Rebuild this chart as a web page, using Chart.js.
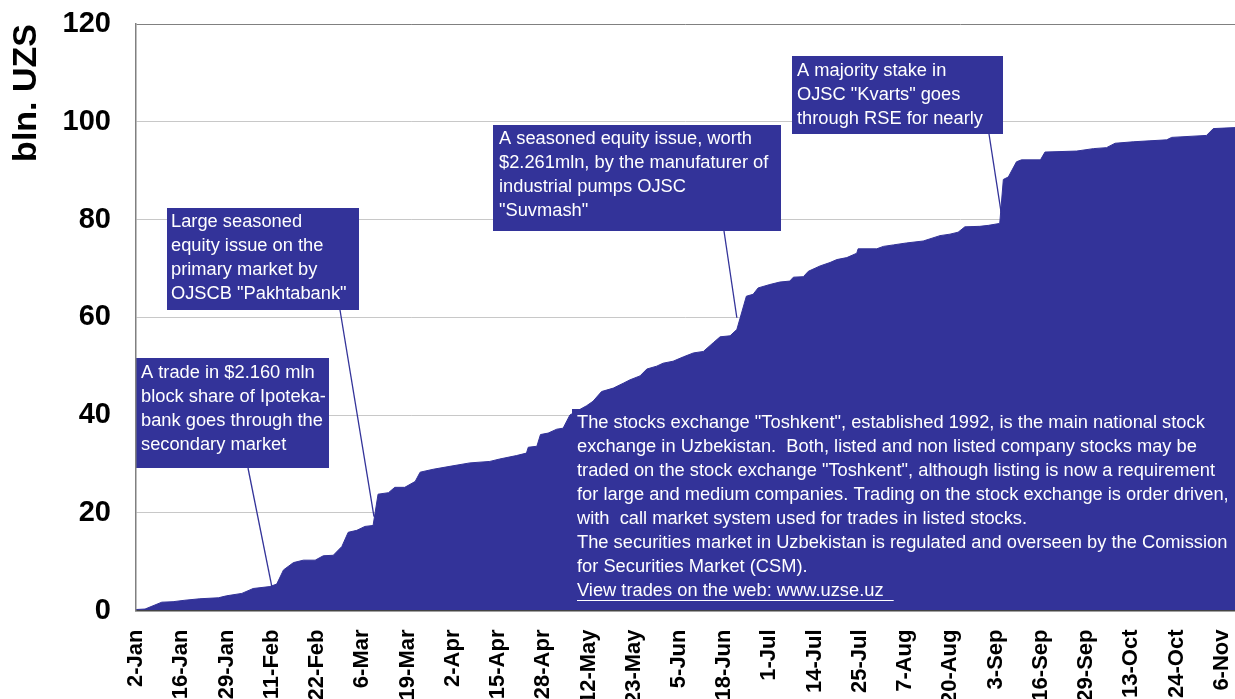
<!DOCTYPE html>
<html><head><meta charset="utf-8">
<script src="https://cdn.jsdelivr.net/npm/chart.js@4.4.1/dist/chart.umd.min.js"></script>
<style>html,body{margin:0;padding:0;background:#fff;overflow:hidden}</style>
</head><body>
<canvas id="c" width="1235" height="699"></canvas>
<script>
// x tick labels (one every ~9 trading days)
const dateLabels = ['2-Jan','16-Jan','29-Jan','11-Feb','22-Feb','6-Mar','19-Mar','2-Apr','15-Apr','28-Apr',
  '12-May','23-May','5-Jun','18-Jun','1-Jul','14-Jul','25-Jul','7-Aug','20-Aug','3-Sep',
  '16-Sep','29-Sep','13-Oct','24-Oct','6-Nov'];
// position along the axis, in label periods (0 = 2-Jan, 24 = 6-Nov)
const positions = [0,0.2,0.57,0.82,1.08,1.41,1.82,2.0,2.34,2.59,2.96,3.11,3.26,3.48,3.70,3.96,4.14,4.36,4.55,4.69,
  4.88,5.06,5.24,5.35,5.58,5.72,5.94,6.17,6.28,6.57,6.94,7.38,7.82,8.04,8.41,8.63,8.67,8.86,8.94,9.11,
  9.30,9.44,9.59,9.96,10.10,10.29,10.55,10.77,10.92,11.14,11.29,11.51,11.65,11.87,12.10,12.32,12.54,12.76,12.91,13.13,
  13.28,13.49,13.64,13.75,14.01,14.23,14.45,14.53,14.75,14.86,15.12,15.34,15.49,15.71,15.93,15.96,16.37,16.52,16.74,17.03,
  17.40,17.77,17.99,18.17,18.32,18.65,18.84,19.09,19.17,19.28,19.46,19.57,19.99,20.09,20.79,21.16,21.45,21.64,22.04,22.41,
  22.78,22.89,23.66,23.81,24.29];
// cumulative value, bln. UZS
const values = [0.2,0.3,1.7,1.8,2.1,2.4,2.6,3.0,3.5,4.5,4.9,5.4,8.3,9.8,10.3,10.3,11.2,11.3,13.1,16.0,
  16.4,17.2,17.4,23.8,24.1,25.2,25.2,26.4,28.3,28.9,29.5,30.2,30.5,31.0,31.7,32.2,33.4,33.6,36.0,36.3,
  37.1,37.3,40.0,41.9,42.8,44.8,45.5,46.5,47.2,48.0,49.4,50.0,50.6,51.0,51.9,52.7,53.0,54.8,56.0,56.2,
  57.5,64.3,64.7,66.0,66.7,67.2,67.4,68.2,68.3,69.4,70.5,71.2,71.8,72.2,73.1,74.0,74.0,74.5,74.8,75.2,
  75.6,76.7,77.0,77.4,78.5,78.6,78.8,79.2,88.2,88.7,91.8,92.2,92.2,93.8,94.0,94.5,94.7,95.6,95.9,96.1,
  96.3,96.8,97.2,98.6,98.8];
const yTicks = [0,20,40,60,80,100,120];

const BLUE = '#333399';
const FONT = "'Liberation Sans', Arial, sans-serif";

const callouts = [
  {lines:['A trade in $2.160 mln','block share of Ipoteka-','bank goes through the','secondary market'],
   box:[136,358,193,110], textX:141, textY:373, from:[248,468], to:[3.0,5.0]},
  {lines:['Large seasoned','equity issue on the','primary market by','OJSCB "Pakhtabank"'],
   box:[167,208,192,102], textX:171, textY:222, from:[340,310], to:[5.26,19.2]},
  {lines:['A seasoned equity issue, worth','$2.261mln, by the manufaturer of','industrial pumps OJSC','"Suvmash"'],
   box:[493,125,288,106], textX:499, textY:139, from:[724,231], to:[13.28,59.9]},
  {lines:['A majority stake in','OJSC "Kvarts" goes','through RSE for nearly'],
   box:[792,56,211,78], textX:797, textY:71, from:[989,134], to:[19.12,81.5]}
];
const infoLines = [
  'The stocks exchange "Toshkent", established 1992, is the main national stock',
  'exchange in Uzbekistan.  Both, listed and non listed company stocks may be',
  'traded on the stock exchange "Toshkent", although listing is now a requirement',
  'for large and medium companies. Trading on the stock exchange is order driven,',
  'with  call market system used for trades in listed stocks.',
  'The securities market in Uzbekistan is regulated and overseen by the Comission',
  'for Securities Market (CSM).',
  'View trades on the web: www.uzse.uz  '
];

const annotPlugin = {
  id: 'annot',
  afterDatasetsDraw(chart) {
    const ctx = chart.ctx, xs = chart.scales.x, ys = chart.scales.y;
    ctx.save();
    ctx.font = '18.3px ' + FONT;
    ctx.textBaseline = 'middle';
    callouts.forEach(c => {
      ctx.strokeStyle = BLUE; ctx.lineWidth = 1.3;
      ctx.beginPath();
      ctx.moveTo(c.from[0], c.from[1]);
      ctx.lineTo(xs.getPixelForValue(c.to[0]), ys.getPixelForValue(c.to[1]));
      ctx.stroke();
      ctx.fillStyle = BLUE;
      ctx.fillRect(c.box[0], c.box[1], c.box[2], c.box[3]);
      ctx.fillStyle = '#ffffff';
      c.lines.forEach((t, i) => ctx.fillText(t, c.textX, c.textY + i * 24));
    });
    // information panel
    const area = chart.chartArea;
    ctx.fillStyle = BLUE;
    ctx.fillRect(572, 409, area.right - 572, area.bottom - 409);
    ctx.fillStyle = '#ffffff';
    ctx.font = '18.3px ' + FONT;
    infoLines.forEach((t, i) => ctx.fillText(t, 577, 423 + i * 24, area.right - 580));
    const last = infoLines[infoLines.length - 1];
    const w = ctx.measureText(last).width;
    ctx.strokeStyle = '#ffffff'; ctx.lineWidth = 1;
    ctx.beginPath(); ctx.moveTo(577, 600.5); ctx.lineTo(577 + w, 600.5); ctx.stroke();
    ctx.restore();
  }
};

new Chart(document.getElementById('c'), {
  type: 'line',
  data: {
    datasets: [{
      data: positions.map((p, i) => ({x: p, y: values[i]})),
      fill: 'origin',
      backgroundColor: BLUE,
      borderColor: BLUE,
      borderWidth: 1,
      pointRadius: 0,
      tension: 0
    }]
  },
  options: {
    responsive: false,
    animation: false,
    layout: {padding: {top: 24, left: 0, right: 0, bottom: 0}},
    plugins: {legend: {display: false}, tooltip: {enabled: false}},
    scales: {
      x: {
        type: 'linear',
        min: 0,
        max: positions[positions.length - 1],
        afterBuildTicks: s => { s.ticks = dateLabels.map((_, i) => ({value: i})); },
        afterFit: s => { s.height = 88.5; s.paddingLeft = 0; s.paddingRight = 0; },
        grid: {display: false, drawTicks: false},
        border: {display: true, color: '#444', width: 1.5, z: 1},
        ticks: {
          autoSkip: false, minRotation: 90, maxRotation: 90, padding: 19,
          color: '#000', font: {family: FONT, size: 22, weight: 'bold'},
          callback: v => dateLabels[v] ?? ''
        }
      },
      y: {
        min: 0, max: 120,
        afterBuildTicks: s => { s.ticks = yTicks.map(v => ({value: v})); },
        afterFit: s => { s.width = 136; s.paddingTop = 0; s.paddingBottom = 0; },
        grid: {
          drawTicks: false,
          color: c => (c.tick && c.tick.value === 120) ? '#808080' : '#c8c8c8',
          lineWidth: 1
        },
        border: {display: true, color: '#808080', width: 1.5, z: 1},
        ticks: {padding: 25, color: '#000', font: {family: FONT, size: 29, weight: 'bold'}},
        title: {display: true, text: 'bln. UZS', align: 'end', color: '#000',
          font: {family: FONT, size: 34, weight: 'bold'}, padding: {top: 6, bottom: 0}}
      }
    }
  },
  plugins: [annotPlugin]
});
</script>
</body></html>
